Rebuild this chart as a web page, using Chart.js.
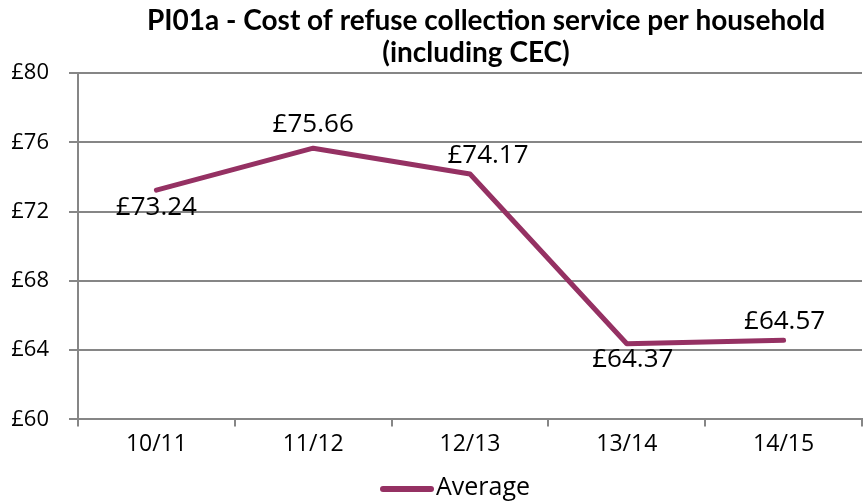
<!DOCTYPE html>
<html>
<head>
<meta charset="utf-8">
<script src="https://cdn.jsdelivr.net/npm/chart.js@4"></script>
<style>
  html, body { margin: 0; padding: 0; background: #fff; }
  #wrap { width: 864px; height: 504px; }
</style>
</head>
<body>
<div id="wrap"><canvas id="chart" width="864" height="504"></canvas></div>
<script>
// data
const years = ['10/11', '11/12', '12/13', '13/14', '14/15'];
const average = [73.24, 75.66, 74.17, 64.37, 64.57];
const yTicks = [60, 64, 68, 72, 76, 80];
const seriesName = 'Average';

const titleLines = ['PI01a - Cost of refuse collection service per household', '(including CEC)'];
const lineColor = '#953163';
const gridColor = '#868686';

// where each value label sits relative to its point (dx, dy)
const labelOffsets = [[0, 18], [0, -24], [18, -18], [6, 16], [1, -19]];

// title, value labels and legend
const extras = {
    id: 'extras',
    afterDraw(chart) {
        const ctx = chart.ctx;
        ctx.save();
        ctx.fillStyle = '#000';
        ctx.textAlign = 'center';
        ctx.textBaseline = 'middle';
        ctx.font = 'bold 28px Lato';
        ctx.fillText(titleLines[0], 486, 21);
        ctx.fillText(titleLines[1], 476, 53);

        ctx.font = '26px "Open Sans"';
        const meta = chart.getDatasetMeta(0);
        meta.data.forEach((pt, i) => {
            const off = labelOffsets[i];
            ctx.fillText('£' + average[i].toFixed(2), pt.x + off[0], pt.y + off[1]);
        });

        // legend
        ctx.strokeStyle = lineColor;
        ctx.lineWidth = 6;
        ctx.lineCap = 'round';
        ctx.beginPath();
        ctx.moveTo(383, 489);
        ctx.lineTo(431, 489);
        ctx.stroke();
        ctx.textAlign = 'left';
        ctx.font = '25px "Open Sans"';
        ctx.fillText(seriesName, 436, 488);
        ctx.restore();
    }
};

const config = {
    type: 'line',
    data: {
        labels: years,
        datasets: [{
            label: seriesName,
            data: average,
            borderColor: lineColor,
            backgroundColor: lineColor,
            borderWidth: 5,
            borderCapStyle: 'round',
            borderJoinStyle: 'round',
            pointRadius: 0,
            tension: 0
        }]
    },
    options: {
        responsive: false,
        animation: false,
        layout: { padding: { top: 73, left: 0, right: 2, bottom: 42 } },
        plugins: {
            title: { display: false },
            tooltip: { enabled: false },
            legend: { display: false }
        },
        scales: {
            x: {
                offset: true,
                grid: {
                    offset: true,
                    drawOnChartArea: false,
                    drawTicks: true,
                    tickLength: 7,
                    color: gridColor,
                    lineWidth: 2
                },
                border: { color: gridColor, width: 2 },
                ticks: {
                    color: '#000',
                    font: { size: 23, family: '"Open Sans"' },
                    padding: 4,
                    maxRotation: 0
                }
            },
            y: {
                min: 60,
                max: 80,
                afterBuildTicks(axis) {
                    axis.ticks = yTicks.map(v => ({ value: v }));
                },
                afterFit(axis) {
                    axis.width = 78;
                },
                grid: {
                    color: gridColor,
                    lineWidth: 2,
                    tickLength: 9
                },
                border: { color: gridColor, width: 2 },
                ticks: {
                    color: '#000',
                    font: { size: 22, family: '"Open Sans"' },
                    padding: 20,
                    callback: v => '£' + v
                }
            }
        }
    },
    plugins: [extras]
};

new Chart(document.getElementById('chart').getContext('2d'), config);
</script>
</body>
</html>
